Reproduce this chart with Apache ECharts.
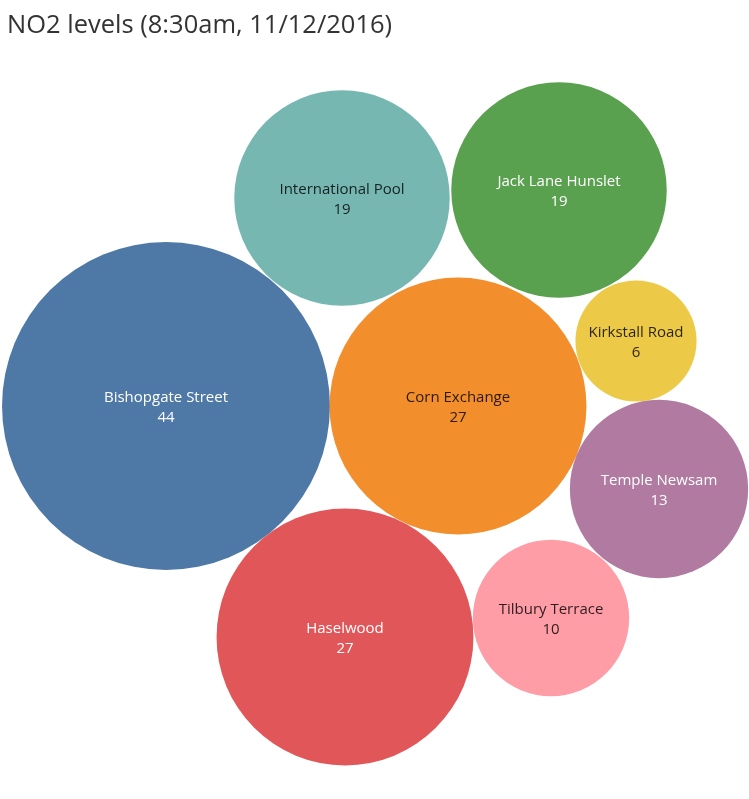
<!DOCTYPE html>
<html>
<head>
<meta charset="utf-8">
<title>NO2 levels</title>
<script src="https://cdn.jsdelivr.net/npm/echarts@6/dist/echarts.min.js"></script>
<style>
html, body { margin: 0; padding: 0; background: #ffffff; }
#main { width: 749px; height: 799px; }
</style>
</head>
<body>
<div id="main"></div>
<script>
// NO2 readings per station
var stations = ['Bishopgate Street', 'International Pool', 'Jack Lane Hunslet', 'Kirkstall Road', 'Corn Exchange', 'Temple Newsam', 'Haselwood', 'Tilbury Terrace'];
var no2 = [44, 19, 19, 6, 27, 13, 27, 10];
// packed layout (centre of each bubble, page units)
var posX = [166, 342, 559, 636, 458, 659, 345, 551];
var posY = [406, 198, 190, 341, 406, 489, 637, 618];
var colors = ['#4e79a7', '#76b7b2', '#59a14f', '#edc948', '#f28e2b', '#b07aa1', '#e15759', '#ff9da7'];
var darkText = [false, true, false, true, true, false, false, true];

var k = 24.72; // radius per sqrt(value)

var seriesData = [];
for (var i = 0; i < stations.length; i++) {
	seriesData.push({
		name : stations[i],
		value : [posX[i], posY[i], no2[i]],
		itemStyle : { color : colors[i], opacity : 1 },
		label : { color : darkText[i] ? 'rgba(0,0,0,0.82)' : '#ffffff' }
	});
}

var myChart = echarts.init(document.getElementById('main'));
var option = {
	backgroundColor : '#ffffff',
	animation : false,
	title : {
		text : 'NO2 levels (8:30am, 11/12/2016)',
		left : 2,
		top : 8,
		textStyle : {
			fontFamily : 'Open Sans',
			fontWeight : 'normal',
			fontSize : 25.5,
			color : '#333333'
		}
	},
	grid : { left : 0, right : 0, top : 0, bottom : 0 },
	xAxis : { type : 'value', min : 0, max : 749, show : false },
	yAxis : { type : 'value', min : 0, max : 799, inverse : true, show : false },
	series : [ {
		type : 'scatter',
		symbol : 'circle',
		symbolSize : function(val) {
			return 2 * k * Math.sqrt(val[2]);
		},
		label : {
			show : true,
			position : 'inside',
			offset : [0, 2],
			fontFamily : 'Open Sans',
			fontSize : 15,
			lineHeight : 20,
			formatter : function(p) {
				return p.name + '\n' + p.value[2];
			}
		},
		emphasis : { disabled : true },
		data : seriesData
	} ]
};
myChart.setOption(option);
</script>
</body>
</html>
